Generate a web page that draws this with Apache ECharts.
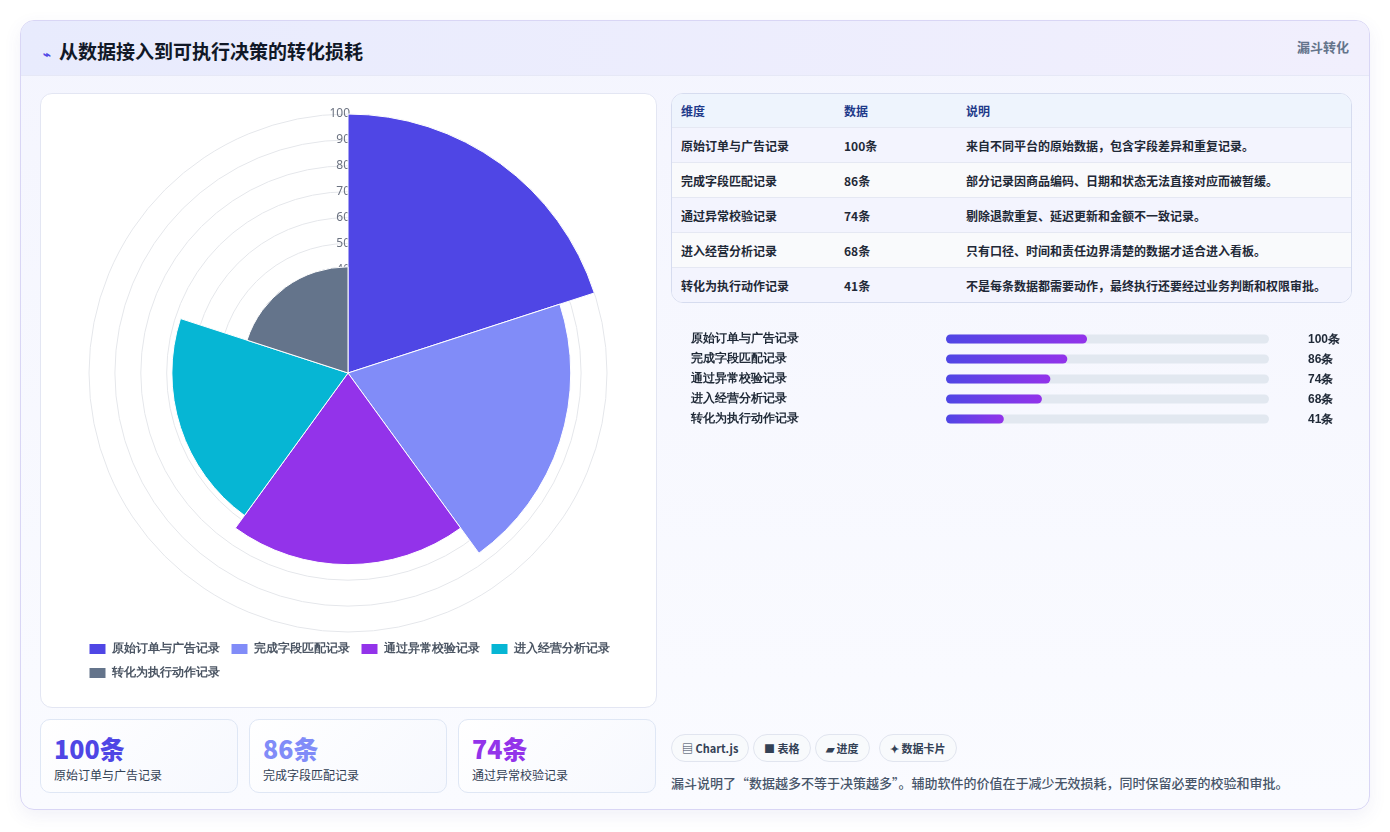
<!DOCTYPE html>
<html><head><meta charset="utf-8">
<script src="https://cdn.jsdelivr.net/npm/echarts@6/dist/echarts.min.js"></script>
<style>
*{box-sizing:border-box;margin:0;padding:0}
body{width:1390px;height:832px;background:#fff;font-family:"Noto Sans CJK SC","Noto Sans",sans-serif;position:relative;overflow:hidden;color:#1e293b}
.card{position:absolute;left:20px;top:20px;width:1350px;height:790px;border:1px solid #d9d6f5;border-radius:14px;background:linear-gradient(180deg,#f4f5fe,#fafbff);box-shadow:0 6px 18px rgba(80,80,160,.08);overflow:hidden}
.head{position:absolute;left:0;top:0;width:100%;height:55px;background:linear-gradient(90deg,#e8ebfd,#f1effd);border-bottom:1px solid #e6e8f6}
.title{position:absolute;left:22px;top:16px;font-size:19px;font-weight:700;color:#111827}
.title span{color:#4f46e5;font-size:13px;margin-right:8px}
.tag{position:absolute;right:20px;top:16px;font-size:13px;font-weight:700;color:#64748b}
.panel{position:absolute;background:#fff;border:1px solid #e3e6f3;border-radius:12px}
.stat{position:absolute;top:698px;width:198px;height:74px;background:linear-gradient(135deg,#fff,#f6f8fe);border:1px solid #dfe7f5;border-radius:10px}
.stat b{position:absolute;left:13px;top:10px;font-size:25px;font-weight:800}
.stat i{position:absolute;left:13px;top:46px;font-size:12px;font-style:normal;color:#334155}
table{position:absolute;left:650px;top:72px;width:681px;border-collapse:separate;border-spacing:0;border:1px solid #d6dcef;border-radius:12px;overflow:hidden;font-size:12px;background:#fff}
td,th{height:35px;padding-left:9px;text-align:left;border-top:1px solid #e5e8f3}
th{height:33px;border-top:none;background:#eef4fd;color:#1e3a8a;font-weight:700}
td{color:#1f2937;font-weight:600}
tr:nth-child(even) td{background:#f3f4fe}
tr:nth-child(odd) td{background:#f9fafc}
.pill{position:absolute;top:713px;height:28px;border:1px solid #e1e5ef;border-radius:14px;background:#f8fafc;font-size:11px;font-weight:700;color:#334155;line-height:26px;padding:0 10px}
.note{position:absolute;left:650px;top:752px;font-size:13px;color:#475569;font-weight:500}
</style></head><body>
<div class="card">
 <div class="head"><div class="title"><span>⌁</span>从数据接入到可执行决策的转化损耗</div><div class="tag">漏斗转化</div></div>
 <div class="panel" style="left:19px;top:72px;width:617px;height:615px"><div id="polar" style="width:615px;height:613px"></div></div>
 <div class="stat" style="left:19px"><b style="color:#4f46e5" id="s0"></b><i id="l0"></i></div>
 <div class="stat" style="left:228px"><b style="color:#818cf8" id="s1"></b><i id="l1"></i></div>
 <div class="stat" style="left:437px"><b style="color:#9333ea" id="s2"></b><i id="l2"></i></div>
 <table id="tbl"></table>
 <div id="prog" style="position:absolute;left:640px;top:288px;width:680px;height:130px"></div>
 <div class="pill" style="left:650px">▤ Chart.js</div>
 <div class="pill" style="left:732px">■ 表格</div>
 <div class="pill" style="left:794px">▰ 进度</div>
 <div class="pill" style="left:858px">✦ 数据卡片</div>
 <div class="note">漏斗说明了“数据越多不等于决策越多”。辅助软件的价值在于减少无效损耗，同时保留必要的校验和审批。</div>
</div>
<script>
const categories=['原始订单与广告记录','完成字段匹配记录','通过异常校验记录','进入经营分析记录','转化为执行动作记录'];
const values=[100,86,74,68,41];
const unit='条';
const notes=['来自不同平台的原始数据，包含字段差异和重复记录。','部分记录因商品编码、日期和状态无法直接对应而被暂缓。','剔除退款重复、延迟更新和金额不一致记录。','只有口径、时间和责任边界清楚的数据才适合进入看板。','不是每条数据都需要动作，最终执行还要经过业务判断和权限审批。'];
const colors=['#4f46e5','#818cf8','#9333ea','#06b6d4','#64748b'];
const radialTicks=[0,10,20,30,40,50,60,70,80,90,100];

for(let i=0;i<3;i++){document.getElementById('s'+i).textContent=values[i]+unit;document.getElementById('l'+i).textContent=categories[i];}
let h='<tr><th style="width:163px">维度</th><th style="width:122px">数据</th><th>说明</th></tr>';
categories.forEach((c,i)=>{h+=`<tr><td>${c}</td><td>${values[i]}${unit}</td><td>${notes[i]}</td></tr>`});
document.getElementById('tbl').innerHTML=h;

const pc=echarts.init(document.getElementById('polar'));
pc.setOption({
 animation:false,
 polar:{center:[307,279],radius:259},
 angleAxis:{type:'category',data:categories,startAngle:90,clockwise:true,axisLine:{show:false},axisTick:{show:false},axisLabel:{show:false},splitLine:{show:false}},
 radiusAxis:{min:0,max:100,interval:10,axisLine:{show:false},axisTick:{show:false},
  axisLabel:{color:'#6b7280',fontSize:12,margin:-2,align:'right',verticalAlign:'middle',fontFamily:'Noto Sans'},
  splitLine:{lineStyle:{color:'#e5e7eb'}},z:1},
 legend:{bottom:22,left:'center',width:560,itemWidth:18,itemHeight:12,itemGap:10,icon:'rect',textStyle:{color:'#4b5563',fontSize:12,fontWeight:600}},
 series:categories.map((c,i)=>({type:'bar',coordinateSystem:'polar',name:c,stack:'a',barCategoryGap:'0%',
  itemStyle:{color:colors[i],borderColor:'#fff',borderWidth:1},z:3,
  data:values.map((v,j)=>j===i?v:null)}))
});

const pg=echarts.init(document.getElementById('prog'));
pg.setOption({
 animation:false,
 grid:{left:285,right:72,top:20,bottom:0,height:100},
 xAxis:{type:'value',min:0,max:229,show:false},
 yAxis:{type:'category',data:categories,inverse:true,axisLine:{show:false},axisTick:{show:false},
  axisLabel:{color:'#1f2937',fontSize:12,fontWeight:600,align:'left',margin:255}},
 series:[{type:'bar',data:values,barWidth:9,showBackground:true,
  backgroundStyle:{color:'#e2e8f0',borderRadius:5},
  itemStyle:{borderRadius:5,color:new echarts.graphic.LinearGradient(0,0,1,0,[{offset:0,color:'#4f46e5'},{offset:1,color:'#9333ea'}])},
  label:{show:true,position:[362,-1],formatter:p=>p.value+unit,color:'#1f2937',fontSize:12,fontWeight:700}}]
});
</script>
</body></html>
